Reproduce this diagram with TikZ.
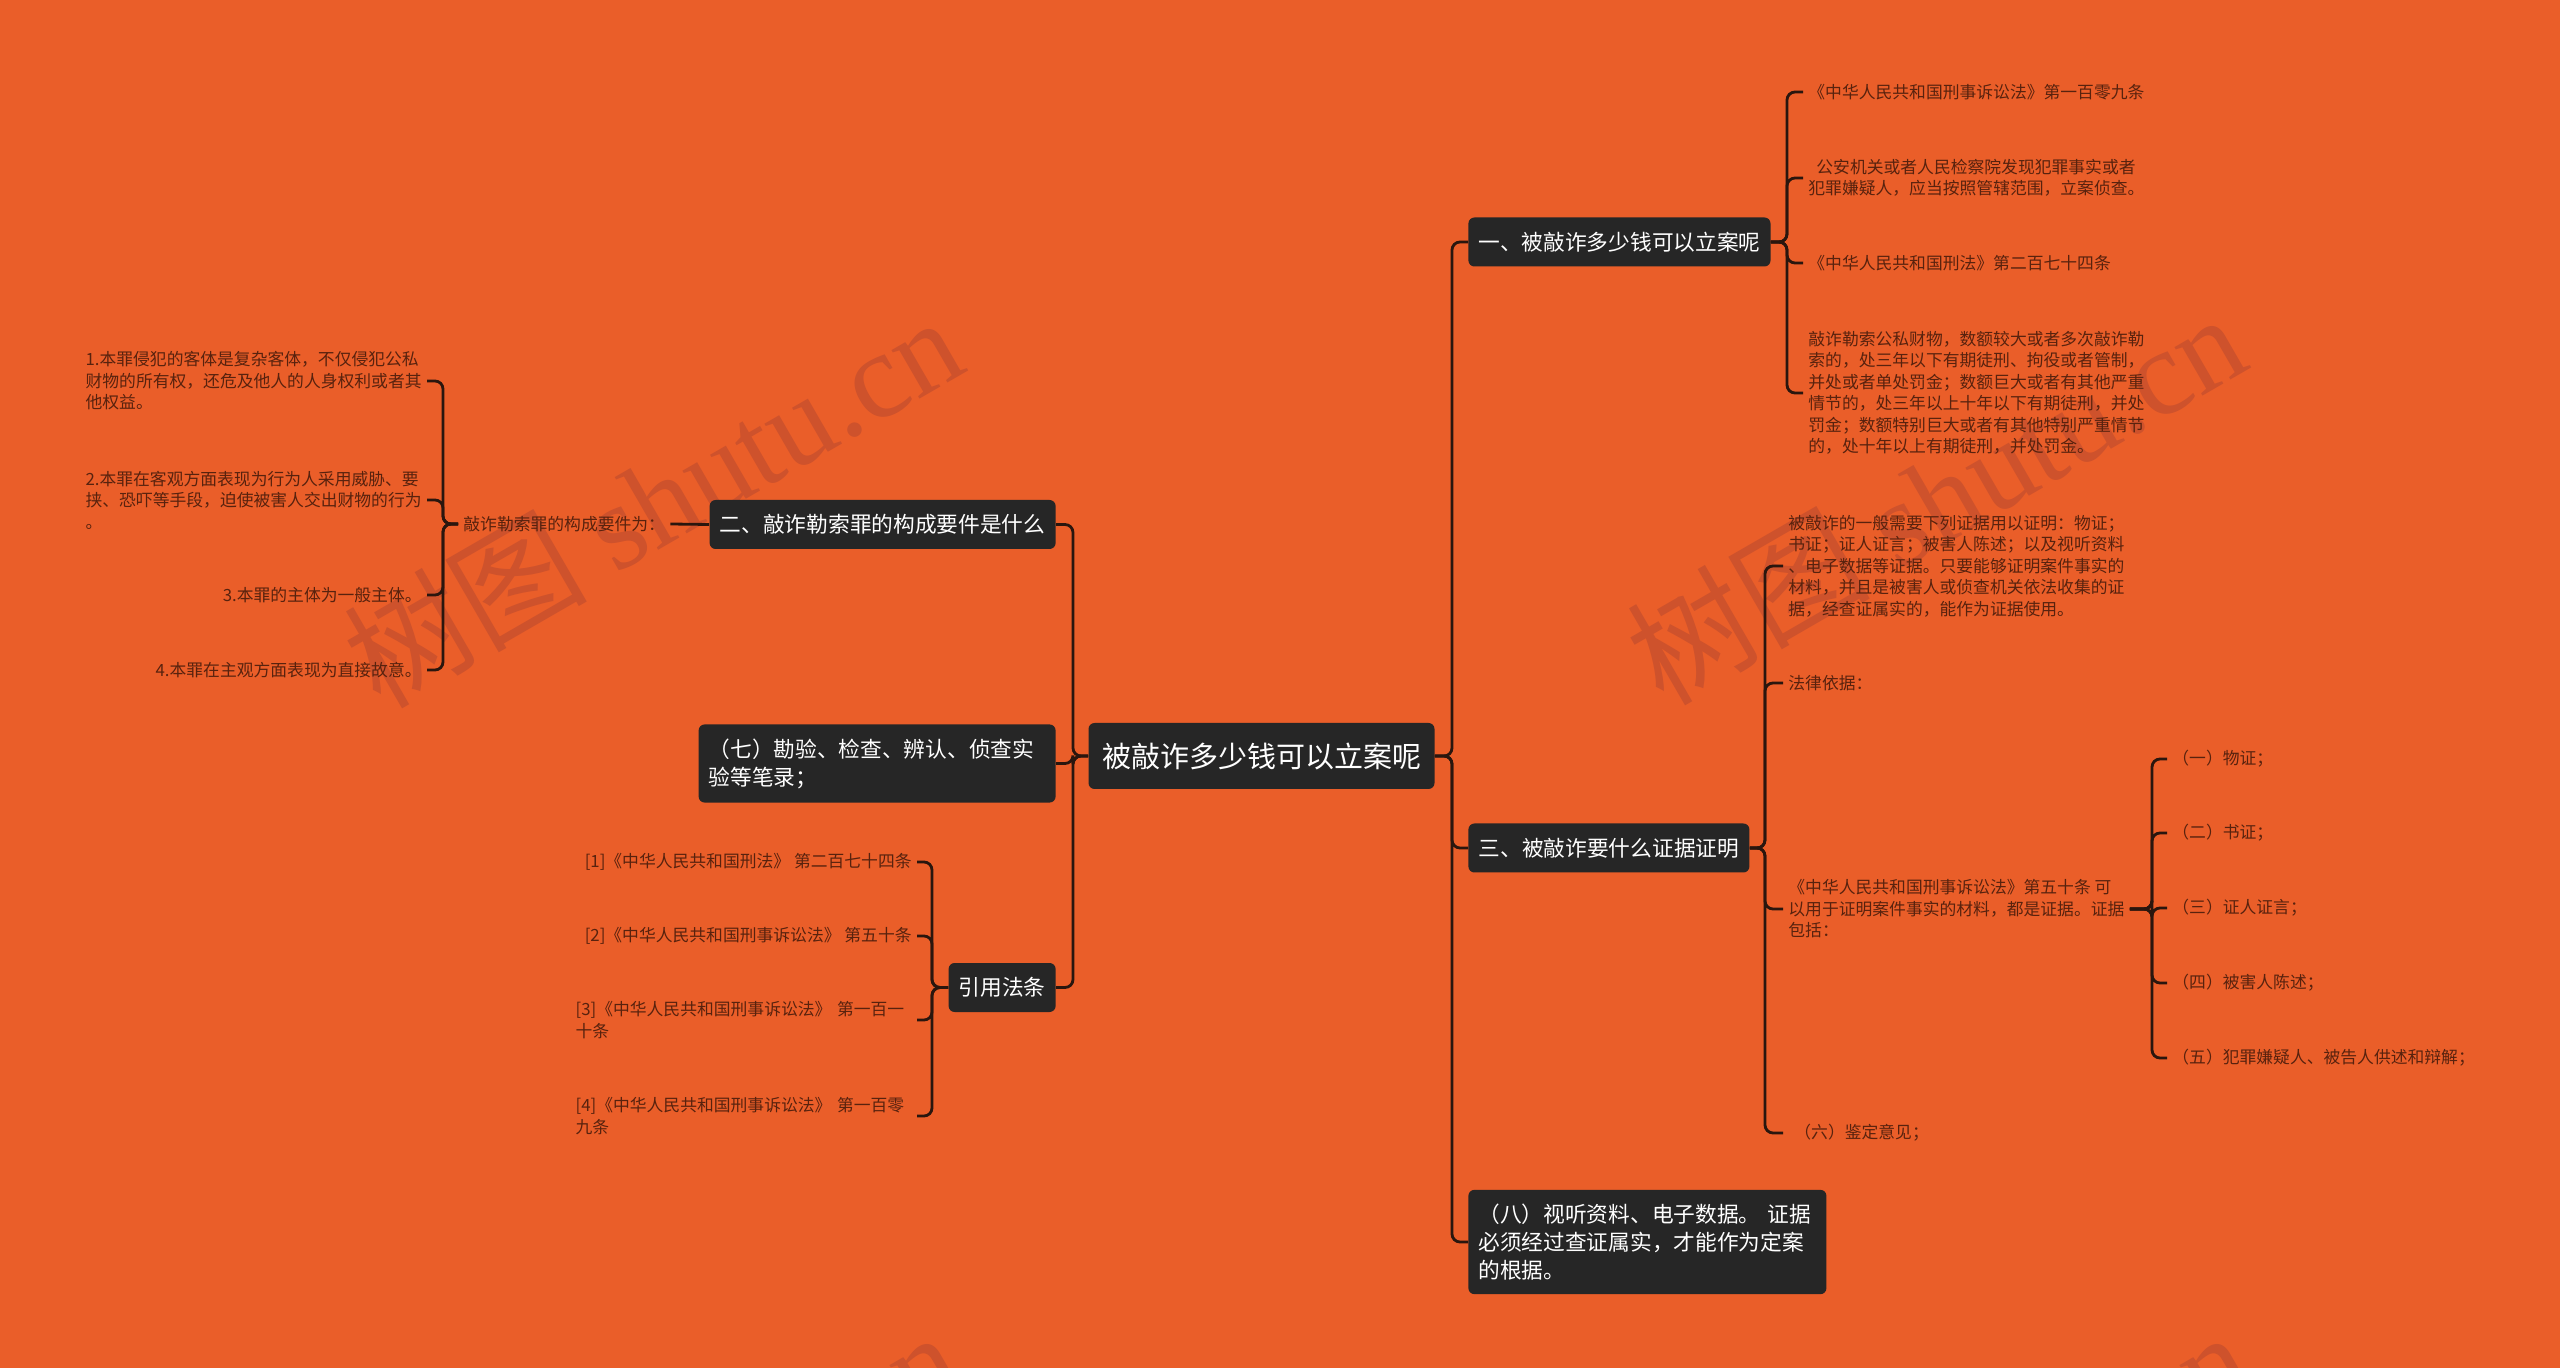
\documentclass[tikz,border=0pt]{standalone}
\usepackage{fontspec}
\setmainfont{Noto Sans CJK SC}
\newfontfamily\wmlatin{Liberation Serif}
\definecolor{bgc}{RGB}{234,94,41}
\definecolor{boxc}{RGB}{38,38,38}
\definecolor{linec}{RGB}{42,22,14}
\definecolor{leafc}{RGB}{88,34,14}
\definecolor{wmc}{RGB}{206,82,44}
\begin{document}
\begin{tikzpicture}[x=0.5pt,y=-0.5pt,
  conn/.style={draw=linec,line width=1.4pt,rounded corners=4pt},
  topic/.style={fill=boxc,text=white,rounded corners=3pt,font=\fontsize{10.85pt}{14pt}\selectfont,inner xsep=5pt,inner ysep=0pt,minimum height=24.5pt},
  topicml/.style={topic,align=left,inner ysep=7pt},
  rootbox/.style={fill=boxc,text=white,rounded corners=3pt,font=\fontsize{14.5pt}{16pt}\selectfont,minimum width=173pt,minimum height=33pt,inner xsep=6pt},
  leaf/.style={text=leafc,font=\fontsize{8.4pt}{10.75pt}\selectfont,inner xsep=2.5pt,inner ysep=1pt,align=left},
  wm/.style={rotate=30,text=wmc,font=\fontsize{61pt}{64pt}\selectfont}
]
\useasboundingbox (0,0) rectangle (2560,1368);
\fill[bgc] (0,0) rectangle (2560,1368);
\begin{scope}
\clip (0,0) rectangle (2560,1368);
\node[wm] (wm1) at (652,500) {树图 {\wmlatin shutu.cn}};
\node[wm] (wm2) at (1935,497) {树图 {\wmlatin shutu.cn}};
\node[wm] (wm3) at (650,1515) {树图 {\wmlatin shutu.cn}};
\node[wm] (wm4) at (1940,1515) {树图 {\wmlatin shutu.cn}};
\end{scope}

% spine coordinates
\coordinate (sL) at (1073,0);
\coordinate (sR) at (1452,0);
\coordinate (s1) at (1787,0);
\coordinate (s3) at (1765,0);
\coordinate (s5) at (2152,0);
\coordinate (sK) at (443,0);
\coordinate (sQ) at (932,0);

% root
\node[rootbox] (root) at (1261.5,756) {被敲诈多少钱可以立案呢};

% right topics
\node[topic,anchor=west,minimum width=151pt] (b1) at (1468,242) {一、被敲诈多少钱可以立案呢};
\node[topic,anchor=west,minimum width=140.5pt] (b3) at (1468,848) {三、被敲诈要什么证据证明};
\node[topicml,anchor=west,text width=169pt] (b8) at (1468,1242) {（八）视听资料、电子数据。 证据\\必须经过查证属实，才能作为定案\\的根据。};

% left topics
\node[topic,anchor=east,minimum width=173pt] (b2) at (1056,524.5) {二、敲诈勒索罪的构成要件是什么};
\node[topicml,anchor=east,text width=168.5pt] (b7) at (1056,763.5) {（七）勘验、检查、辨认、侦查实\\验等笔录；};
\node[topic,anchor=east,minimum width=53.5pt] (bq) at (1056,987.5) {引用法条};

% leaves of b1
\node[leaf,anchor=west] (l11) at (1803,92) {《中华人民共和国刑事诉讼法》第一百零九条};
\node[leaf,anchor=west] (l12) at (1803,178) {\hspace*{4pt}公安机关或者人民检察院发现犯罪事实或者\\犯罪嫌疑人，应当按照管辖范围，立案侦查。};
\node[leaf,anchor=west] (l13) at (1803,263) {《中华人民共和国刑法》第二百七十四条};
\node[leaf,anchor=west] (l14) at (1803,393) {敲诈勒索公私财物，数额较大或者多次敲诈勒\\索的，处三年以下有期徒刑、拘役或者管制，\\并处或者单处罚金；数额巨大或者有其他严重\\情节的，处三年以上十年以下有期徒刑，并处\\罚金；数额特别巨大或者有其他特别严重情节\\的，处十年以上有期徒刑，并处罚金。};

% leaves of b3
\node[leaf,anchor=west] (m1) at (1783,566) {被敲诈的一般需要下列证据用以证明：物证；\\书证；证人证言；被害人陈述；以及视听资料\\、电子数据等证据。只要能够证明案件事实的\\材料，并且是被害人或侦查机关依法收集的证\\据，经查证属实的，能作为证据使用。};
\node[leaf,anchor=west] (m2) at (1783,683) {法律依据：};
\node[leaf,anchor=west] (m3) at (1783,909) {《中华人民共和国刑事诉讼法》第五十条 可\\以用于证明案件事实的材料，都是证据。证据\\包括：};
\node[leaf,anchor=west] (m4) at (1783,1133) {\hspace*{3pt}（六）鉴定意见；};

% leaves of m3
\node[leaf,anchor=west] (n1) at (2167,759) {（一）物证；};
\node[leaf,anchor=west] (n2) at (2167,833) {（二）书证；};
\node[leaf,anchor=west] (n3) at (2167,908) {（三）证人证言；};
\node[leaf,anchor=west] (n4) at (2167,983) {（四）被害人陈述；};
\node[leaf,anchor=west] (n5) at (2167,1058) {（五）犯罪嫌疑人、被告人供述和辩解；};

% b2 subtree
\node[leaf,anchor=west] (k) at (458,524) {敲诈勒索罪的构成要件为：};
\node[leaf,anchor=east] (la) at (427,381) {1.本罪侵犯的客体是复杂客体，不仅侵犯公私\\财物的所有权，还危及他人的人身权利或者其\\他权益。};
\node[leaf,anchor=east] (lb) at (427,500) {2.本罪在客观方面表现为行为人采用威胁、要\\挟、恐吓等手段，迫使被害人交出财物的行为\\。};
\node[leaf,anchor=east] (lc) at (427,595) {3.本罪的主体为一般主体。};
\node[leaf,anchor=east] (ld) at (427,670) {4.本罪在主观方面表现为直接故意。};

% references
\node[leaf,anchor=east] (q1) at (917,862) {[1]《中华人民共和国刑法》 第二百七十四条};
\node[leaf,anchor=east] (q2) at (917,936) {[2]《中华人民共和国刑事诉讼法》 第五十条};
\node[leaf,anchor=east,text width=168pt] (q3) at (917,1020) {[3]《中华人民共和国刑事诉讼法》 第一百一\\十条};
\node[leaf,anchor=east,text width=168pt] (q4) at (917,1116) {[4]《中华人民共和国刑事诉讼法》 第一百零\\九条};

% connectors: root
\foreach \c in {b2,b7,bq} \draw[conn] (root.west) -- (root.west -| sL) |- (\c.east);
\foreach \c in {b1,b3,b8} \draw[conn] (root.east) -- (root.east -| sR) |- (\c.west);
% b1 leaves
\foreach \c in {l11,l12,l13,l14} \draw[conn] (b1.east) -- (b1.east -| s1) |- (\c.west);
% b3 leaves
\foreach \c in {m1,m2,m3,m4} \draw[conn] (b3.east) -- (b3.east -| s3) |- (\c.west);
% m3 leaves
\foreach \c in {n1,n2,n3,n4,n5} \draw[conn] (m3.east) -- (m3.east -| s5) |- (\c.west);
% b2 subtree
\draw[conn] (b2.west) -- (k.east);
\foreach \c in {la,lb,lc,ld} \draw[conn] (k.west) -- (k.west -| sK) |- (\c.east);
% references
\foreach \c in {q1,q2,q3,q4} \draw[conn] (bq.west) -- (bq.west -| sQ) |- (\c.east);
\end{tikzpicture}
\end{document}
